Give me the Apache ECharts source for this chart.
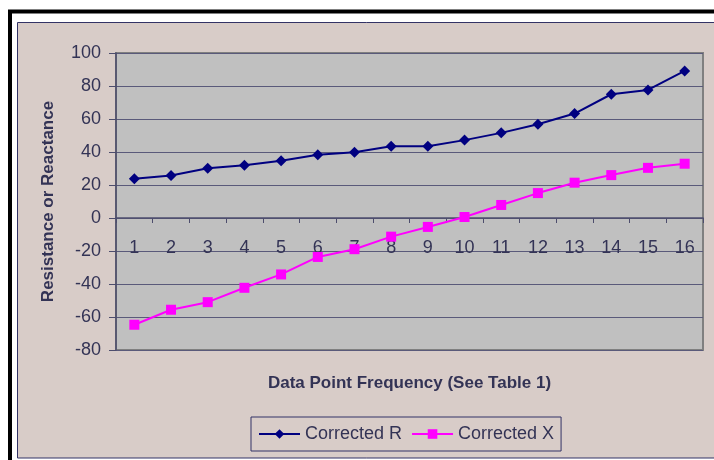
<!DOCTYPE html>
<html lang="en">
<head>
    <meta charset="UTF-8">
    <title>Corrected R and X</title>
    <script type="text/javascript" src="https://cdn.jsdelivr.net/npm/echarts@6/dist/echarts.min.js"></script>
    <style>
        body { margin: 0; background: #fff; }
        #chart { width: 714px; height: 460px; }
    </style>
</head>
<body>
<div id="chart"></div>
<script type="text/javascript">
    // data
    var points = ['1', '2', '3', '4', '5', '6', '7', '8', '9', '10', '11', '12', '13', '14', '15', '16'];
    var correctedR = [23.8, 25.8, 30.2, 32, 34.7, 38.3, 39.9, 43.5, 43.5, 47.2, 51.6, 56.8, 63.3, 75, 77.6, 89.1];
    var correctedX = [-64.7, -55.6, -51, -42.3, -34.2, -23.6, -18.9, -11.3, -5.4, 0.6, 7.9, 15.1, 21.4, 26, 30.4, 32.9];
    var yTicks = [-80, 100, 20]; // min, max, step

    var textColor = '#333355';
    var lineColor = '#4d4d6d';

    var chart = echarts.init(document.getElementById('chart'));
    var option = {
        animation: false,
        textStyle: { fontFamily: 'Liberation Sans, Arial, sans-serif', color: textColor },
        graphic: [
            {
                type: 'rect', z: -10, silent: true,
                shape: { x: 10, y: 11.5, width: 900, height: 900 },
                style: { fill: '#fff', stroke: '#000', lineWidth: 4 }
            },
            {
                type: 'rect', z: -9, silent: true,
                shape: { x: 17.5, y: 22.5, width: 900, height: 435.5 },
                style: { fill: '#d8ccc8', stroke: '#333366', lineWidth: 1 }
            }
        ],
        grid: {
            left: 116, top: 53, width: 587, height: 297,
            outerBoundsMode: 'none',
            containLabel: false,
            show: true,
            backgroundColor: '#c0c0c0',
            borderColor: '#808080',
            borderWidth: 2
        },
        legend: {
            left: 251, top: 417,
            padding: [8, 7, 8, 7],
            itemWidth: 41, itemHeight: 12, itemGap: 9,
            borderColor: '#333366', borderWidth: 1,
            textStyle: { fontSize: 18, color: textColor },
            data: ['Corrected R', 'Corrected X']
        },
        xAxis: {
            type: 'category',
            z: 0,
            data: points,
            name: 'Data Point Frequency (See Table 1)',
            nameLocation: 'middle',
            nameGap: 25,
            nameTextStyle: { fontSize: 17, fontWeight: 'bold', color: textColor },
            axisLine: { onZero: true, lineStyle: { color: lineColor, width: 1.5 } },
            axisTick: { show: true, length: 5, lineStyle: { color: lineColor } },
            // labels sit up under the zero line, not at the plot bottom
            axisLabel: { fontSize: 18, color: textColor, margin: -111 },
            splitLine: { show: false }
        },
        yAxis: {
            type: 'value',
            min: yTicks[0], max: yTicks[1], interval: yTicks[2],
            name: 'Resistance or Reactance',
            nameLocation: 'middle',
            nameGap: 59,
            nameTextStyle: { fontSize: 17, fontWeight: 'bold', color: textColor },
            axisLine: { show: true, lineStyle: { color: lineColor, width: 1.5 } },
            axisTick: { show: true, length: 7, lineStyle: { color: lineColor } },
            axisLabel: { fontSize: 18, color: textColor, margin: 15 },
            splitLine: { show: true, lineStyle: { color: '#5a5a7a', width: 1.2 } }
        },
        series: [
            {
                name: 'Corrected R',
                type: 'line',
                z: 5,
                data: correctedR,
                symbol: 'diamond',
                symbolSize: 11,
                color: '#000080',
                lineStyle: { width: 2, color: '#000080' },
                itemStyle: { color: '#000080' }
            },
            {
                name: 'Corrected X',
                type: 'line',
                z: 5,
                data: correctedX,
                symbol: 'rect',
                symbolSize: 10,
                color: '#ff00ff',
                lineStyle: { width: 2, color: '#ff00ff' },
                itemStyle: { color: '#ff00ff' }
            }
        ]
    };
    chart.setOption(option);
</script>
</body>
</html>
